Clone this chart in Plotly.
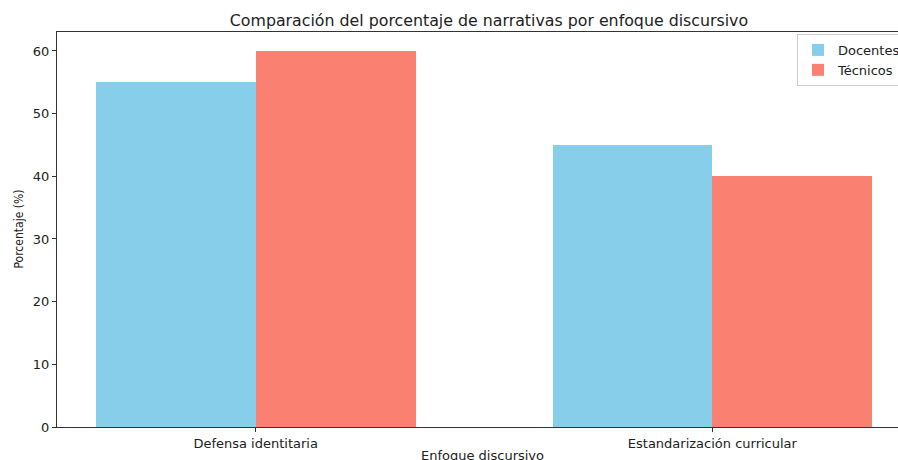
import plotly.graph_objects as go

categories = ["Defensa identitaria", "Estandarización curricular"]
docentes = [55, 45]
tecnicos = [60, 40]
series_names = ["Docentes", "Técnicos"]
y_ticks = [0, 10, 20, 30, 40, 50, 60]

xpos = [0, 1]
w = 0.35
font = "DejaVu Sans"

fig = go.Figure()
fig.add_trace(go.Bar(x=[p - w / 2 for p in xpos], y=docentes, width=w, name=series_names[0],
                     marker=dict(color="skyblue", line=dict(width=0))))
fig.add_trace(go.Bar(x=[p + w / 2 for p in xpos], y=tecnicos, width=w, name=series_names[1],
                     marker=dict(color="salmon", line=dict(width=0))))

fig.update_layout(
    width=920, height=460,
    margin=dict(l=57, r=9, t=32, b=33, autoexpand=False),
    plot_bgcolor="white", paper_bgcolor="white",
    font=dict(family=font, size=13, color="#222"),
    title=dict(text="Comparación del porcentaje de narrativas por enfoque discursivo",
               x=0.5315, xanchor="center", y=0.9565, yanchor="middle",
               font=dict(size=15.8, color="#222")),
    barmode="overlay",
    bargap=0,
    showlegend=True,
    legend=dict(x=0.8665, y=0.995, xanchor="left", yanchor="top",
                bgcolor="rgba(255,255,255,0.8)", bordercolor="#ccc", borderwidth=1,
                font=dict(size=13), tracegroupgap=0, itemwidth=30),
    xaxis=dict(range=[-0.435, 1.435], tickvals=xpos, ticktext=categories,
               showgrid=False, zeroline=False, showline=True, linecolor="#333", linewidth=1,
               mirror=True, ticks="outside", ticklen=4, tickcolor="#333",
               tickfont=dict(size=13)),
    yaxis=dict(range=[0, 63.03], tickvals=y_ticks, showgrid=False, zeroline=False,
               showline=True, linecolor="#333", linewidth=1, mirror=True,
               ticks="outside", ticklen=4, tickcolor="#333", tickfont=dict(size=13)),
    annotations=[
        dict(text="Enfoque discursivo", xref="paper", yref="paper", x=0.4988, y=-28 / 395,
             xanchor="center", yanchor="middle", showarrow=False, font=dict(size=13)),
        dict(text="Porcentaje (%)", xref="paper", yref="paper", x=-39 / 854, y=0.5,
             xanchor="center", yanchor="middle", textangle=-90, showarrow=False,
             font=dict(size=12, family="DejaVu Sans Condensed, DejaVu Sans")),
    ],
)

fig.write_html(
    "out.html",
    config={"displayModeBar": False},
    post_script="document.body.style.margin='0';document.body.style.overflow='hidden';",
)
